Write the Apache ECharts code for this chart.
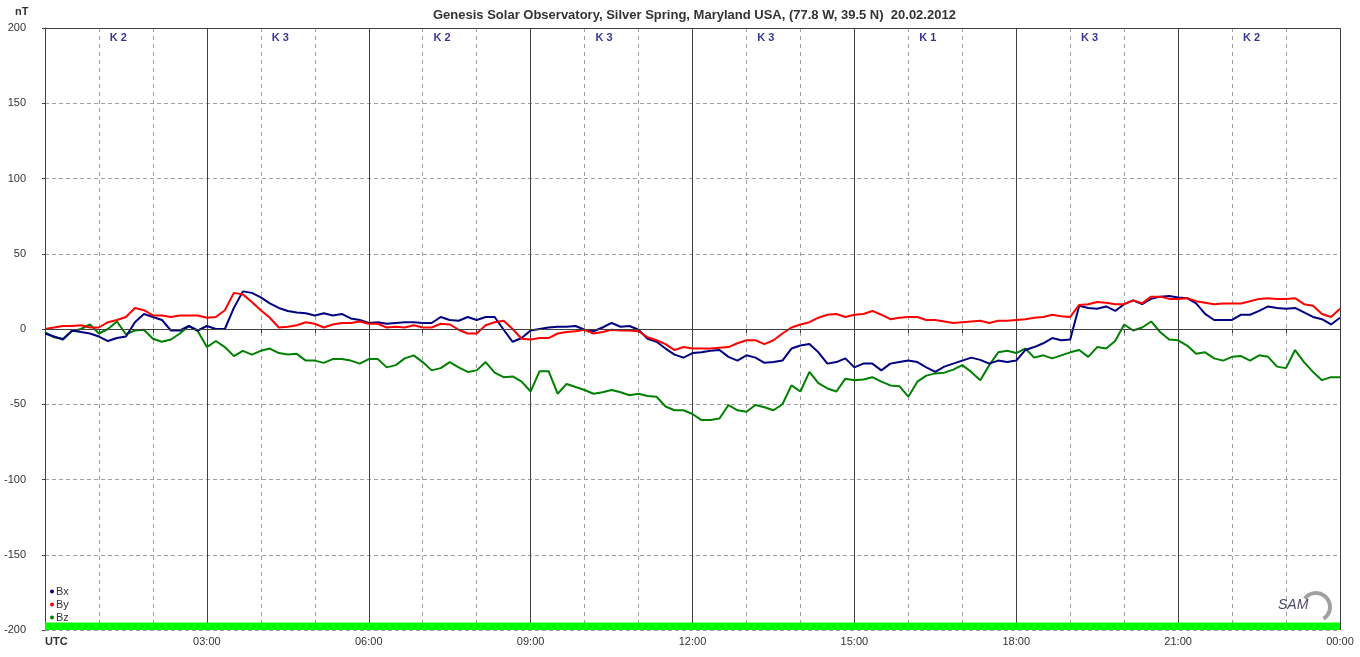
<!DOCTYPE html>
<html><head><meta charset="utf-8">
<script src="https://cdn.jsdelivr.net/npm/echarts@6/dist/echarts.min.js"></script>
<style>html,body{margin:0;padding:0;background:#fff}#c{width:1360px;height:657px}</style>
</head><body><div id="c"></div>
<script>
// samples every 10 minutes, 00:00 .. 24:00 UTC
const stepMinutes = 10;
const bx = [
 -3,-5,-7,-1,-2,-3,-5,-8,-6,-5,
 4.5,10,8,6,-1,-1,2,-1,2,0,
 0,14,25,24,21,17,14,12,11,10.5,
 9,10.5,9,10,7,6,4,4.5,3.5,4,
 4.5,4.5,4,4,8,6,5.5,8,
 6,
 8,8,-0.5,-8.5,-6,-1,0,1,1.5,1.5,2,
 -0.5,-1.5,1,4,1.5,2,-0.5,-6.5,-8.5,-13,
 -17,-19,-16,-15.5,-14.5,-14,-18.5,-21,-17.5,-19,
 -22.5,-22,-21,-13,-11,-10,-15.5,-23,-22,-19.5,
 -25.5,-23,-23,-27.5,-23,-22,
 -21,
 -22,-25.5,-28.5,-25,-23,-21,-19,-20.5,-23,-21,-22,
 -21,-14,-12,-9.5,-6,-7.5,-7,15.5,14,13.5,15,12,
 16.5,19,16.5,20,21.5,22,21,20.5,17,10,6,6,
 6,9.5,9.5,12,15,14,13.5,14,11,8,6.5,3,7.5
];
const by = [
 0,1,2,2,2.5,1,1,4.5,6,8,
 14,12.5,9,9,8,9,9,9,7.5,8,
 12.5,24,23,18,12.5,7.5,1,1.5,2.5,4.5,
 3.5,1,3,4,4,5,3.5,3.5,1,1.5,
 1,2.5,1,1,3.5,3,-0.5,-3,
 -3,
 2.5,4.5,5.5,0,-6.5,-7,-6,-6,-3,-2,-1.5,
 -0.5,-3,-2,-0.5,-1,-1,-1.5,-5.5,-7.5,-10,
 -14,-12,-13,-13,-13,-12.5,-12,-9.5,-7.5,-7.5,
 -10,-7.5,-3,1,3,4.5,7.5,9.5,10,8,
 9.5,10,12,9.5,6.5,7.5,
 8,
 8,6,6,5,4,4.5,5,5.5,4,5.5,5.5,
 6,6.5,7.5,8,9.5,8.5,8,16,16.5,18,17.5,16.5,
 16.5,19,17,21.5,21.5,20,20,20.5,18.5,17.5,16.5,17,
 17,17,18.5,20,20.5,20,20,20.5,16.5,15.5,10,8,13.5
];
const bz = [
 -2,-5.5,-6.5,-1.5,0,3,-3,0,5,-3.5,
 -1,-0.5,-6.5,-8.5,-7,-3,2,-1.5,-12,-8,
 -12,-18,-14.5,-17,-14.5,-13,-16,-17,-16.5,-21,
 -21,-22.5,-20,-20,-21,-23,-20,-20,-25.5,-24,
 -19.5,-17.5,-22,-27.5,-26,-22,-25.5,-28.5,
 -27.5,
 -22,-29,-32,-31.5,-35,-41.5,-28,-28,-43,-36.5,-38.5,
 -40.5,-43,-42,-40.5,-42,-44,-43,-44.5,-45,-51.5,
 -54,-54,-56.5,-60.5,-60.5,-59.5,-50.5,-54,-55,-50.5,
 -52,-54,-50,-37.5,-41.5,-28.5,-36,-39.5,-41.5,-33,
 -34,-33.5,-32,-35,-37.5,-38,
 -45,
 -35,-31,-29.5,-29,-27,-24,-28.5,-34,-24,-15.5,-14.5,
 -16,-13,-19,-17.5,-19.5,-17.5,-15.5,-14,-18.5,-12,-13,-8,
 3,-1,1,5,-2,-7,-7.5,-11,-16.5,-15.5,-19.5,-21,
 -18.5,-18,-21,-17.5,-18.5,-25,-26,-14,-22,-28.5,-34,-32,-32
];
const kIndex = [2,3,2,3,3,1,3,2];
const hourLabels = ['', '03:00','06:00','09:00','12:00','15:00','18:00','21:00','00:00'];
const yTicks = {min:-200, max:200, step:50};

const toPairs = arr => arr.map((v,i)=>[i*stepMinutes/60, v]);
const FONT = "'Liberation Sans', Arial, sans-serif";
const chart = echarts.init(document.getElementById('c'), null, {renderer:'canvas'});

chart.setOption({
  animation:false,
  backgroundColor:'#ffffff',
  title:{text:'Genesis Solar Observatory, Silver Spring, Maryland USA, (77.8 W, 39.5 N)  20.02.2012',
    left:428, top:4, textStyle:{fontSize:13, fontWeight:'bold', color:'#333', fontFamily:FONT}},
  grid:{left:45, right:20, top:28, bottom:27, containLabel:false},
  legend:{data:['Bx','By','Bz'], orient:'vertical', left:45, top:580, itemWidth:4, itemHeight:4,
    itemGap:0, icon:'circle', textStyle:{fontSize:11, color:'#333', fontFamily:FONT, lineHeight:13, padding:[0,0,0,-3]}},
  xAxis:[{
    type:'value', min:0, max:24, interval:1, position:'bottom',
    axisLine:{show:true, lineStyle:{color:'#404040', width:1}},
    axisTick:{show:true, length:4, lineStyle:{color:'#404040'}},
    axisLabel:{margin:6, fontSize:11, color:'#333', fontFamily:FONT,
      formatter:v => (v % 3 === 0) ? hourLabels[v/3] : ''},
    splitLine:{show:true, lineStyle:{color:'#a0a0a0', type:[4,4], width:1}}
  },{
    type:'value', min:0, max:24, interval:3, position:'top',
    axisLine:{show:true, lineStyle:{color:'#404040', width:1}},
    axisTick:{show:false}, axisLabel:{show:false},
    splitLine:{show:true, lineStyle:{color:'#404040', type:'solid', width:1}}
  }],
  yAxis:{type:'value', min:yTicks.min, max:yTicks.max, interval:yTicks.step,
    axisLine:{show:true, lineStyle:{color:'#404040'}},
    axisTick:{show:true, length:3, lineStyle:{color:'#404040'}},
    axisLabel:{margin:19, fontSize:11, color:'#333', fontFamily:FONT},
    splitLine:{show:true, lineStyle:{color:'#a0a0a0', type:[4,3], width:1}}
  },
  graphic:[
    {type:'text', left:15, top:6, style:{text:'nT', font:"bold 11px 'Liberation Sans', Arial", fill:'#333'}},
    {type:'text', left:45, top:636, style:{text:'UTC', font:"bold 11px 'Liberation Sans', Arial", fill:'#333'}},
    {type:'arc', shape:{cx:1316, cy:607, r:14, startAngle:-2.5, endAngle:1.0}, style:{stroke:'#a0a0a0', lineWidth:4, fill:null}},
    {type:'text', left:1278, top:598, style:{text:'SAM', font:"italic 14px 'Liberation Sans', Arial", fill:'#4a4a6a'}}
  ],
  series:[
    {name:'frame', type:'line', data:[], silent:true, z:1,
     markLine:{silent:true, symbol:['none','none'], label:{show:false},
       lineStyle:{color:'#404040', type:'solid', width:1}, data:[{yAxis:0}]},
     markArea:{silent:true, itemStyle:{color:'#00ff00', opacity:1}, data:[[{yAxis:-200},{yAxis:-195}]]}},
    {name:'Bx', type:'line', data:toPairs(bx), showSymbol:false, symbol:'circle', z:3,
     lineStyle:{color:'#000080', width:2}, itemStyle:{color:'#000080'}},
    {name:'By', type:'line', data:toPairs(by), showSymbol:false, symbol:'circle', z:4,
     lineStyle:{color:'#ff0000', width:2}, itemStyle:{color:'#ff0000'}},
    {name:'Bz', type:'line', data:toPairs(bz), showSymbol:false, symbol:'circle', z:2,
     lineStyle:{color:'#008000', width:2}, itemStyle:{color:'#008000'}},
    {name:'K', type:'scatter', data:kIndex.map((k,i)=>[3*i+1.36, 193.6, k]), symbolSize:1, z:5,
     itemStyle:{color:'transparent'},
     label:{show:true, position:'inside', formatter:p=>'K ' + p.value[2],
       color:'#000080', fontWeight:'bold', fontSize:11, fontFamily:FONT}}
  ]
});
</script></body></html>
